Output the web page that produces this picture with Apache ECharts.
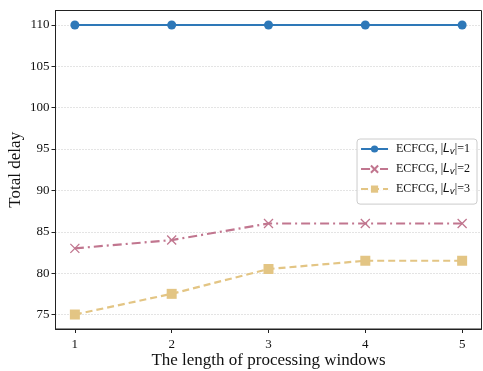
<!DOCTYPE html>
<html>
<head>
<meta charset="utf-8">
<script src="https://cdn.jsdelivr.net/npm/echarts@6/dist/echarts.min.js"></script>
<style>
	html, body { margin: 0; padding: 0; background: #fff; }
	#chart { width: 483px; height: 371px; }
</style>
</head>
<body>
<div id="chart"></div>
<script>
	var windows = [1, 2, 3, 4, 5]
	var delayLv1 = [110, 110, 110, 110, 110]
	var delayLv2 = [83, 84, 86, 86, 86]
	var delayLv3 = [75, 77.5, 80.5, 81.5, 81.5]
	var yTicks = [75, 80, 85, 90, 95, 100, 105, 110]

	var serif = '"Liberation Serif", "Times New Roman", serif'

	var pairs = (ys) => windows.map((x, i) => [x, ys[i]])

	var chart = echarts.init(document.getElementById('chart'))

	var option = {
		animation: false,
		textStyle: { fontFamily: serif },
		grid: {
			left: 55.5,
			right: 1.5,
			top: 10.5,
			bottom: 42,
			containLabel: false,
			outerBoundsMode: 'none',
			show: true,
			borderColor: '#222',
			borderWidth: 1,
		},
		legend: {
			right: 6,
			top: 139,
			orient: 'vertical',
			itemWidth: 27,
			itemHeight: 9,
			itemGap: 7,
			padding: [4, 7, 8, 3],
			borderColor: '#cccccc',
			borderWidth: 1,
			borderRadius: 3,
			backgroundColor: 'rgba(255,255,255,0.8)',
			textStyle: {
				fontFamily: serif,
				fontSize: 12,
				color: '#111',
				padding: [0, 0, 0, 3],
				rich: {
					i: { fontFamily: '"DejaVu Sans", sans-serif', fontStyle: 'italic', fontSize: 12, color: '#111' },
					s: { fontFamily: '"DejaVu Sans", sans-serif', fontStyle: 'italic', fontSize: 8.5, color: '#111', verticalAlign: 'bottom', padding: [5, 0, 0, 0] },
				},
			},
			formatter: (name) => 'ECFCG, |{i|L}{s|v}|=' + name.slice(-1),
			data: ['Lv1', 'Lv2', 'Lv3'],
		},
		xAxis: {
			type: 'value',
			min: 0.8,
			max: 5.2,
			name: 'The length of processing windows',
			nameLocation: 'middle',
			nameMoveOverlap: false,
			nameGap: 23,
			nameTextStyle: { fontFamily: serif, fontSize: 17, color: '#111', verticalAlign: 'top' },
			axisLine: { lineStyle: { color: '#222', width: 1 } },
			axisTick: { show: true, customValues: windows, length: 4, lineStyle: { color: '#222' } },
			axisLabel: { customValues: windows, fontFamily: serif, fontSize: 13, color: '#111', margin: 9 },
			splitLine: { show: false },
		},
		yAxis: {
			type: 'value',
			min: 73.25,
			max: 111.75,
			name: 'Total delay',
			nameLocation: 'middle',
			nameMoveOverlap: false,
			nameGap: 31,
			nameRotate: 90,
			nameTextStyle: { fontFamily: serif, fontSize: 17, color: '#111', verticalAlign: 'bottom' },
			axisLine: { show: true, lineStyle: { color: '#222', width: 1 } },
			axisTick: { show: true, customValues: yTicks, length: 4, lineStyle: { color: '#222' } },
			axisLabel: { customValues: yTicks, fontFamily: serif, fontSize: 13, color: '#111', margin: 6 },
			splitLine: { show: true, lineStyle: { color: '#bbbbbb', type: [1, 2], width: 0.8 } },
		},
		series: [
			{
				name: 'Lv1',
				type: 'line',
				data: pairs(delayLv1),
				color: '#2e78b8',
				symbol: 'circle',
				symbolSize: 9,
				lineStyle: { width: 2.2, color: '#2e78b8' },
				itemStyle: { color: '#2e78b8' },
			},
			{
				name: 'Lv2',
				type: 'line',
				data: pairs(delayLv2),
				color: '#c1768f',
				symbol: 'path://M0,0L10,10M10,0L0,10',
				symbolSize: 9,
				lineStyle: { width: 2.2, color: '#c1768f', type: [9, 4, 2, 4] },
				itemStyle: { color: 'none', borderColor: '#c1768f', borderWidth: 1.3 },
			},
			{
				name: 'Lv3',
				type: 'line',
				data: pairs(delayLv3),
				color: '#e3c584',
				symbol: 'rect',
				symbolSize: 10,
				lineStyle: { width: 2.2, color: '#e3c584', type: [7, 4] },
				itemStyle: { color: '#e3c584' },
			},
		],
	}

	chart.setOption(option)
</script>
</body>
</html>
